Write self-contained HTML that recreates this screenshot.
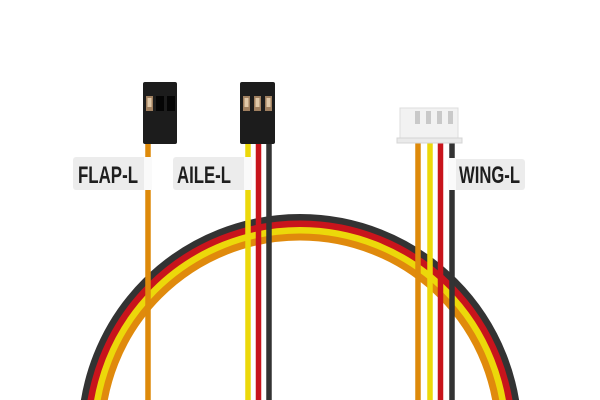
<!DOCTYPE html>
<html><head><style>html,body{margin:0;padding:0;background:#fff;width:600px;height:400px;overflow:hidden}svg{display:block}</style></head>
<body>
<svg width="600" height="400" viewBox="0 0 600 400" xmlns="http://www.w3.org/2000/svg">
<rect width="600" height="400" fill="#fff"/>
<g fill="none" stroke-width="7">
<circle cx="300" cy="436" r="218.5" stroke="#333"/>
<circle cx="300" cy="436" r="212" stroke="#c8141c"/>
<circle cx="300" cy="436" r="205.5" stroke="#ecd80a"/>
<circle cx="300" cy="436" r="199" stroke="#e08a0c"/>
</g>
<g stroke-width="5.5">
<line x1="148" y1="140" x2="148" y2="400" stroke="#de8a0a"/>
<line x1="248" y1="140" x2="248" y2="400" stroke="#ecd80a"/>
<line x1="258.5" y1="140" x2="258.5" y2="400" stroke="#c8141c"/>
<line x1="269" y1="140" x2="269" y2="400" stroke="#333"/>
<line x1="418" y1="140" x2="418" y2="400" stroke="#de8a0a"/>
<line x1="430" y1="140" x2="430" y2="400" stroke="#ecd80a"/>
<line x1="440.5" y1="140" x2="440.5" y2="400" stroke="#c8141c"/>
<line x1="452" y1="140" x2="452" y2="400" stroke="#333"/>
</g>
<rect x="143" y="82" width="34" height="62" rx="2" fill="#1c1c1c"/>
<rect x="146" y="96" width="7" height="15" fill="#a08060"/>
<rect x="147.5" y="98" width="4" height="9" fill="#e0c8a8"/>
<rect x="156" y="96" width="8" height="15" fill="#050505"/>
<rect x="167" y="96" width="8" height="15" fill="#050505"/>
<rect x="240" y="82" width="35" height="62" rx="2" fill="#1c1c1c"/>
<rect x="243" y="96" width="7" height="15" fill="#a08060"/>
<rect x="254" y="96" width="7" height="15" fill="#a08060"/>
<rect x="265" y="96" width="7" height="15" fill="#a08060"/>
<rect x="244.5" y="98" width="4" height="9" fill="#e0c8a8"/>
<rect x="255.5" y="98" width="4" height="9" fill="#e0c8a8"/>
<rect x="266.5" y="98" width="4" height="9" fill="#e0c8a8"/>
<rect x="400" y="108" width="58" height="32" fill="#f2f2f2" stroke="#ddd"/>
<rect x="397" y="138" width="65" height="5" fill="#eaeaea" stroke="#d4d4d4"/>
<g fill="#c9c9c9"><rect x="415" y="111" width="5" height="13"/><rect x="426" y="111" width="5" height="13"/><rect x="437" y="111" width="5" height="13"/><rect x="448" y="111" width="5" height="13"/></g>
<g font-family="'Liberation Sans Narrow','Liberation Sans',sans-serif" font-weight="bold" font-size="24" fill="#1e1e1e">
<rect x="73" y="157" width="78" height="33" rx="3" fill="#ececec"/>
<rect x="144" y="157" width="8" height="33" fill="#fafafa"/>
<text x="78" y="183" textLength="60" lengthAdjust="spacingAndGlyphs">FLAP-L</text>
<rect x="173" y="157" width="78" height="33" rx="3" fill="#ececec"/>
<rect x="244" y="157" width="8" height="33" fill="#fafafa"/>
<text x="177" y="183" textLength="54" lengthAdjust="spacingAndGlyphs">AILE-L</text>
<rect x="449" y="159" width="76" height="31" rx="3" fill="#ececec"/>
<rect x="448" y="158" width="8" height="32" fill="#fafafa"/>
<text x="459" y="183" textLength="61" lengthAdjust="spacingAndGlyphs">WING-L</text>
</g>
</svg>
</body></html>
